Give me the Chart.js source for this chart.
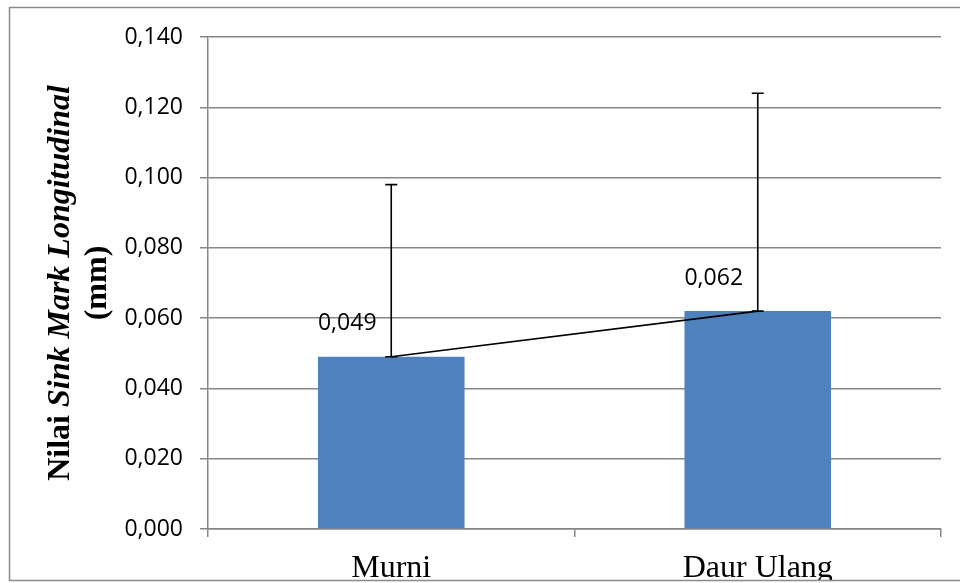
<!DOCTYPE html>
<html>
<head>
<meta charset="utf-8">
<script src="https://cdn.jsdelivr.net/npm/chart.js@4.4.0/dist/chart.umd.min.js"></script>
<style>
  html, body { margin: 0; padding: 0; background: #fff; }
  #wrap { width: 960px; height: 583px; }
</style>
</head>
<body>
<div id="wrap"><canvas id="myChart" width="960" height="583"></canvas></div>
<script>
// data
var categories = ['Murni', 'Daur Ulang'];
var nilaiRata = [0.049, 0.062];
var errorAtas = [0.049, 0.062]; // panjang error bar ke atas
var yTicks = [0, 0.02, 0.04, 0.06, 0.08, 0.1, 0.12, 0.14];

function formatKoma(v) {
    return v.toFixed(3).replace('.', ',');
}

var ctx = document.getElementById('myChart').getContext('2d');

// bingkai luar
var framePlugin = {
    id: 'frame',
    afterDraw: function(chart) {
        var c = chart.ctx;
        c.save();
        c.fillStyle = '#fff';
        c.fillRect(0, 581, chart.width, 10);
        c.strokeStyle = '#8a8a8a';
        c.lineWidth = 1.5;
        c.strokeRect(9.5, 7.5, 1000, 573);
        c.restore();
    }
};

// error bar (hanya ke atas) dan label nilai
var errorBarPlugin = {
    id: 'errorBars',
    afterDatasetsDraw: function(chart) {
        var c = chart.ctx;
        var x = chart.scales.x, y = chart.scales.y;
        c.save();
        c.strokeStyle = '#000';
        c.lineWidth = 1.6;
        for (var i = 0; i < categories.length; i++) {
            var px = x.getPixelForValue(i);
            var y0 = y.getPixelForValue(nilaiRata[i]);
            var y1 = y.getPixelForValue(nilaiRata[i] + errorAtas[i]);
            c.beginPath();
            c.moveTo(px, y0);
            c.lineTo(px, y1);
            c.moveTo(px - 6, y1);
            c.lineTo(px + 6, y1);
            c.moveTo(px - 6, y0);
            c.lineTo(px + 6, y0);
            c.stroke();

            c.fillStyle = '#000';
            c.font = '23px "Open Sans"';
            c.textAlign = 'center';
            c.textBaseline = 'middle';
            c.fillText(formatKoma(nilaiRata[i]), px - 44, y0 - 33);
        }
        c.restore();
    }
};

// judul sumbu Y dengan sebagian teks miring
var yTitlePlugin = {
    id: 'yTitle',
    afterDraw: function(chart) {
        var c = chart.ctx;
        var area = chart.chartArea;
        var cy = (area.top + area.bottom) / 2;
        var parts = [
            { t: 'Nilai ', f: 'bold 32px "Liberation Serif"' },
            { t: 'Sink Mark Longitudinal', f: 'italic bold 32px "Liberation Serif"' }
        ];
        c.save();
        c.fillStyle = '#000';
        c.textBaseline = 'alphabetic';
        c.textAlign = 'left';
        var total = 0;
        parts.forEach(function(p) { c.font = p.f; p.w = c.measureText(p.t).width; total += p.w; });
        c.translate(69, cy);
        c.rotate(-Math.PI / 2);
        var xx = -total / 2;
        parts.forEach(function(p) { c.font = p.f; c.fillText(p.t, xx, 0); xx += p.w; });
        c.restore();

        c.save();
        c.fillStyle = '#000';
        c.font = 'bold 32px "Liberation Serif"';
        c.textAlign = 'center';
        c.textBaseline = 'alphabetic';
        c.translate(106, cy);
        c.rotate(-Math.PI / 2);
        c.fillText('(mm)', 0, 0);
        c.restore();
    }
};

var chart = new Chart(ctx, {
    type: 'bar',
    data: {
        labels: categories,
        datasets: [{
            type: 'line',
            data: nilaiRata,
            borderColor: '#000',
            borderWidth: 1.6,
            pointRadius: 0,
            fill: false,
            tension: 0
        }, {
            type: 'bar',
            data: nilaiRata,
            backgroundColor: '#4F81BD',
            barPercentage: 0.4,
            categoryPercentage: 1
        }]
    },
    options: {
        responsive: false,
        animation: false,
        layout: { padding: { left: 0, top: 37, right: 19, bottom: 0 } },
        plugins: {
            legend: { display: false },
            tooltip: { enabled: false }
        },
        scales: {
            x: {
                grid: {
                    offset: true,
                    drawOnChartArea: false,
                    drawTicks: true,
                    tickLength: 8,
                    color: '#868686',
                    lineWidth: 1.5
                },
                border: { color: '#868686', width: 1.5 },
                ticks: {
                    color: '#000',
                    padding: 12,
                    maxRotation: 0,
                    font: { family: '"Liberation Serif"', size: 32 }
                },
                afterFit: function(scale) { scale.height = 54; }
            },
            y: {
                min: 0,
                max: 0.14,
                afterBuildTicks: function(scale) {
                    scale.ticks = yTicks.map(function(v) { return { value: v }; });
                },
                grid: {
                    color: '#868686',
                    lineWidth: 1.5,
                    tickLength: 8
                },
                border: { color: '#868686', width: 1.5 },
                ticks: {
                    color: '#000',
                    padding: 17,
                    font: { family: '"Open Sans"', size: 23 },
                    callback: function(v) { return formatKoma(v); }
                },
                afterFit: function(scale) { scale.width = 208; }
            }
        }
    },
    plugins: [errorBarPlugin, yTitlePlugin, framePlugin]
});
</script>
</body>
</html>
